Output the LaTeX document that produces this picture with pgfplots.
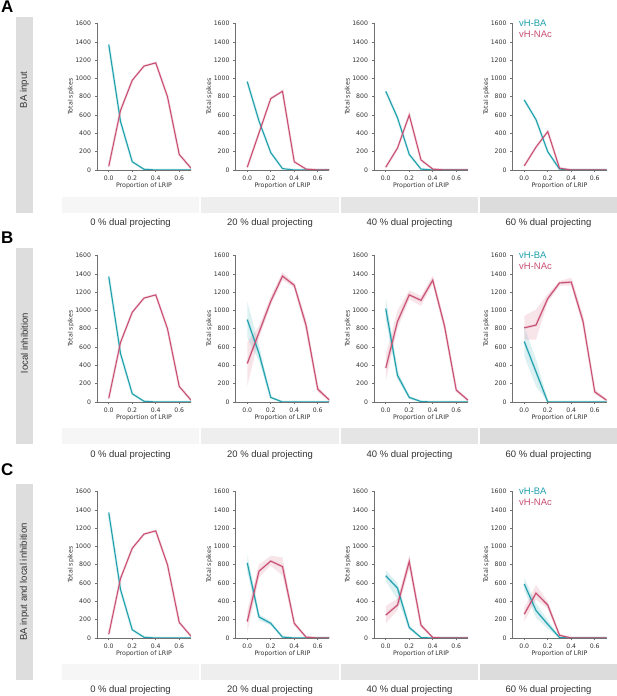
\documentclass[border=0pt]{standalone}
\usepackage{fontspec}
\setmainfont{Liberation Sans}
\newfontfamily\dejavu{DejaVu Sans}
\usepackage{pgfplots}
\pgfplotsset{compat=1.18}
\definecolor{ba}{RGB}{30,160,172}
\definecolor{nac}{RGB}{200,78,114}
\definecolor{spine}{HTML}{707070}
\definecolor{tk}{HTML}{333333}
\definecolor{g0}{HTML}{F6F6F6}
\definecolor{g1}{HTML}{EEEEEE}
\definecolor{g2}{HTML}{E5E5E5}
\definecolor{g3}{HTML}{DCDCDC}
\definecolor{gs}{HTML}{DDDDDD}

\pgfplotsset{panel/.style={
  scale only axis, width=94bp, height=146.5bp, anchor=south west,
  xmin=-0.1, xmax=0.7, ymin=0, ymax=1600,
  axis lines=left, axis line style={-, spine, line width=0.6bp},
  xtick={0,0.2,0.4,0.6}, xticklabels={0.0,0.2,0.4,0.6},
  ytick={0,200,...,1600},
  xtick pos=left, ytick pos=left,
  tick align=outside, major tick length=2.5bp, tick style={spine, line width=0.6bp},
  ticklabel style={font=\dejavu\fontsize{6.2}{7}\selectfont, text=tk},
  /pgf/number format/assume math mode=true, /pgf/number format/1000 sep={},
  xlabel={Proportion of LRIP}, ylabel={Total spikes},
  every axis x label/.style={at={(axis description cs:0.5,-0.11)}, anchor=center, font=\dejavu\fontsize{6.3}{7}\selectfont, text=tk},
  every axis y label/.style={at={(axis description cs:-0.277,0.5)}, rotate=90, anchor=center, font=\dejavu\fontsize{6.3}{7}\selectfont, text=tk},
}}

\newcommand{\panel}[5]{%
\begin{axis}[panel, at={(#1bp,#2bp)}]
#5
\addplot[ba, line width=2.6bp, opacity=0.16] coordinates {#3};
\addplot[nac, line width=2.6bp, opacity=0.16] coordinates {#4};
\addplot[ba, line width=1.1bp] coordinates {#3};
\addplot[nac, line width=1.1bp] coordinates {#4};
\end{axis}}

\begin{document}
\begin{tikzpicture}
\path[use as bounding box] (0,0) rectangle (617bp,696bp);

% side boxes
\fill[gs] (16bp,483bp) rectangle (33bp,679bp);
\fill[gs] (16bp,252bp) rectangle (33bp,448bp);
\fill[gs] (16bp,16bp) rectangle (33bp,212bp);
\foreach \yb/\yt in {483/499, 252/268, 16/32}{
  \fill[g0] (62bp,\yb bp) rectangle (199bp,\yt bp);
  \fill[g1] (201bp,\yb bp) rectangle (339bp,\yt bp);
  \fill[g2] (341bp,\yb bp) rectangle (478bp,\yt bp);
  \fill[g3] (480bp,\yb bp) rectangle (617bp,\yt bp);
}
\foreach \yl in {473, 241, 6}{
  \node[font=\fontsize{9.5}{11}\selectfont, text=tk] at (130.5bp,\yl bp) {0 \% dual projecting};
  \node[font=\fontsize{9.5}{11}\selectfont, text=tk] at (270bp,\yl bp) {20 \% dual projecting};
  \node[font=\fontsize{9.5}{11}\selectfont, text=tk] at (409.5bp,\yl bp) {40 \% dual projecting};
  \node[font=\fontsize{9.5}{11}\selectfont, text=tk] at (548.5bp,\yl bp) {60 \% dual projecting};
}
\node[rotate=90, font=\fontsize{9.6}{11}\selectfont, text=tk] at (24.5bp,606bp) {BA input};
\node[rotate=90, font=\fontsize{9.6}{11}\selectfont, text=tk] at (24.5bp,353bp) {local inhibition};
\node[rotate=90, font=\fontsize{9.6}{11}\selectfont, text=tk] at (24.5bp,114bp) {BA input and local inhibition};

\node[anchor=north west, inner sep=0pt, font=\bfseries\fontsize{17}{17}\selectfont] at (1bp,695bp) {A};
\node[anchor=north west, inner sep=0pt, font=\bfseries\fontsize{17}{17}\selectfont] at (1bp,464bp) {B};
\node[anchor=north west, inner sep=0pt, font=\bfseries\fontsize{17}{17}\selectfont] at (1bp,233bp) {C};

% ---------- Row A: BA input ----------
\panel{97}{526}
 {(0,1370)(0.1,530)(0.2,90)(0.3,8)(0.4,0)(0.5,0)(0.6,0)(0.7,0)}
 {(0,40)(0.1,650)(0.2,980)(0.3,1135)(0.4,1170)(0.5,800)(0.6,170)(0.7,20)}{}
\panel{235.5}{526}
 {(0,965)(0.1,535)(0.2,190)(0.3,15)(0.4,0)(0.5,0)(0.6,0)(0.7,0)}
 {(0,30)(0.1,405)(0.2,780)(0.3,860)(0.4,90)(0.5,10)(0.6,0)(0.7,0)}{}
\panel{374}{526}
 {(0,860)(0.1,570)(0.2,170)(0.3,10)(0.4,0)(0.5,0)(0.6,0)(0.7,0)}
 {(0,30)(0.1,240)(0.2,600)(0.3,110)(0.4,10)(0.5,0)(0.6,0)(0.7,0)}{}
\panel{512.5}{526}
 {(0,765)(0.1,550)(0.2,200)(0.3,10)(0.4,0)(0.5,0)(0.6,0)(0.7,0)}
 {(0,45)(0.1,250)(0.2,420)(0.3,20)(0.4,0)(0.5,0)(0.6,0)(0.7,0)}{}

% ---------- Row B: local inhibition ----------
\panel{97}{294}
 {(0,1370)(0.1,530)(0.2,90)(0.3,8)(0.4,0)(0.5,0)(0.6,0)(0.7,0)}
 {(0,40)(0.1,650)(0.2,980)(0.3,1135)(0.4,1170)(0.5,800)(0.6,170)(0.7,20)}{}
\panel{235.5}{294}
 {(0,900)(0.1,530)(0.2,50)(0.3,0)(0.4,0)(0.5,0)(0.6,0)(0.7,0)}
 {(0,420)(0.1,760)(0.2,1100)(0.3,1375)(0.4,1275)(0.5,840)(0.6,140)(0.7,20)}
 {\addplot[fill=ba, fill opacity=0.15, draw=none] coordinates {(0,1100)(0.1,620)(0.2,60)(0.3,5)(0.3,0)(0.2,40)(0.1,450)(0,700)} -- cycle;
  \addplot[fill=nac, fill opacity=0.15, draw=none] coordinates {(0,650)(0.1,830)(0.2,1150)(0.3,1420)(0.4,1300)(0.5,900)(0.6,170)(0.7,30)(0.7,10)(0.6,110)(0.5,780)(0.4,1250)(0.3,1330)(0.2,1060)(0.1,700)(0,170)} -- cycle;}
\panel{374}{294}
 {(0,1020)(0.1,290)(0.2,50)(0.3,5)(0.4,0)(0.5,0)(0.6,0)(0.7,0)}
 {(0,370)(0.1,880)(0.2,1170)(0.3,1110)(0.4,1330)(0.5,830)(0.6,130)(0.7,20)}
 {\addplot[fill=ba, fill opacity=0.15, draw=none] coordinates {(0,1150)(0.1,340)(0.2,65)(0.3,8)(0.3,2)(0.2,35)(0.1,250)(0,900)} -- cycle;
  \addplot[fill=nac, fill opacity=0.15, draw=none] coordinates {(0,520)(0.1,1000)(0.2,1220)(0.3,1160)(0.4,1380)(0.5,880)(0.6,150)(0.7,30)(0.7,10)(0.6,110)(0.5,780)(0.4,1290)(0.3,1050)(0.2,1120)(0.1,800)(0,230)} -- cycle;}
\panel{512.5}{294}
 {(0,660)(0.1,330)(0.2,0)(0.3,0)(0.4,0)(0.5,0)(0.6,0)(0.7,0)}
 {(0,810)(0.1,840)(0.2,1130)(0.3,1300)(0.4,1310)(0.5,880)(0.6,110)(0.7,20)}
 {\addplot[fill=ba, fill opacity=0.15, draw=none] coordinates {(0,820)(0.1,470)(0.2,20)(0.2,0)(0.1,170)(0,500)} -- cycle;
  \addplot[fill=nac, fill opacity=0.15, draw=none] coordinates {(0,940)(0.1,1010)(0.2,1180)(0.3,1320)(0.4,1360)(0.5,950)(0.6,140)(0.7,30)(0.7,10)(0.6,90)(0.5,840)(0.4,1270)(0.3,1270)(0.2,1090)(0.1,680)(0,680)} -- cycle;}

% ---------- Row C: BA input and local inhibition ----------
\panel{97}{58}
 {(0,1370)(0.1,530)(0.2,90)(0.3,8)(0.4,0)(0.5,0)(0.6,0)(0.7,0)}
 {(0,40)(0.1,650)(0.2,980)(0.3,1135)(0.4,1170)(0.5,800)(0.6,170)(0.7,20)}{}
\panel{235.5}{58}
 {(0,820)(0.1,230)(0.2,160)(0.3,10)(0.4,0)(0.5,0)(0.6,0)(0.7,0)}
 {(0,180)(0.1,730)(0.2,840)(0.3,780)(0.4,160)(0.5,10)(0.6,0)(0.7,0)}
 {\addplot[fill=ba, fill opacity=0.15, draw=none] coordinates {(0,920)(0.1,260)(0.2,180)(0.3,15)(0.3,5)(0.2,140)(0.1,190)(0,720)} -- cycle;
  \addplot[fill=nac, fill opacity=0.15, draw=none] coordinates {(0,300)(0.1,800)(0.2,900)(0.3,880)(0.4,180)(0.5,15)(0.5,5)(0.4,140)(0.3,680)(0.2,790)(0.1,660)(0,60)} -- cycle;}
\panel{374}{58}
 {(0,680)(0.1,545)(0.2,115)(0.3,5)(0.4,0)(0.5,0)(0.6,0)(0.7,0)}
 {(0,250)(0.1,360)(0.2,835)(0.3,140)(0.4,5)(0.5,0)(0.6,0)(0.7,0)}
 {\addplot[fill=ba, fill opacity=0.15, draw=none] coordinates {(0,740)(0.1,600)(0.2,140)(0.3,8)(0.3,2)(0.2,90)(0.1,420)(0,620)} -- cycle;
  \addplot[fill=nac, fill opacity=0.15, draw=none] coordinates {(0,350)(0.1,430)(0.2,900)(0.3,160)(0.4,10)(0.4,2)(0.3,120)(0.2,760)(0.1,300)(0,160)} -- cycle;}
\panel{512.5}{58}
 {(0,590)(0.1,300)(0.2,150)(0.3,5)(0.4,0)(0.5,0)(0.6,0)(0.7,0)}
 {(0,260)(0.1,490)(0.2,360)(0.3,30)(0.4,0)(0.5,0)(0.6,0)(0.7,0)}
 {\addplot[fill=ba, fill opacity=0.15, draw=none] coordinates {(0,660)(0.1,380)(0.2,200)(0.3,8)(0.3,2)(0.2,100)(0.1,220)(0,520)} -- cycle;
  \addplot[fill=nac, fill opacity=0.15, draw=none] coordinates {(0,330)(0.1,580)(0.2,400)(0.3,40)(0.4,3)(0.4,0)(0.3,20)(0.2,320)(0.1,420)(0,180)} -- cycle;}

% legends
\foreach \yt in {672.5, 440.5, 204.5}{
  \node[anchor=west, inner sep=0pt, text=ba, font=\fontsize{9.5}{11}\selectfont] at (519bp,\yt bp) {vH-BA};
  \node[anchor=west, inner sep=0pt, text=nac, font=\fontsize{9.5}{11}\selectfont] at (519bp,\yt bp-11bp) {vH-NAc};
}
\end{tikzpicture}
\end{document}
